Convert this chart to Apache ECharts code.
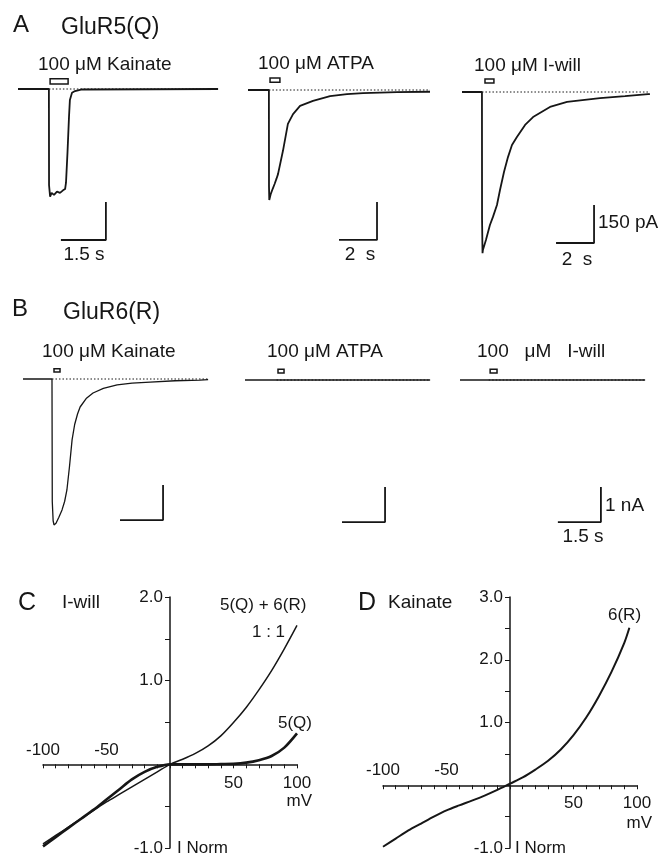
<!DOCTYPE html>
<html>
<head>
<meta charset="utf-8">
<script src="https://cdn.jsdelivr.net/npm/echarts@6/dist/echarts.min.js"></script>
<style>
html, body { margin: 0; padding: 0; background: #fff; }
#fig { width: 661px; height: 859px; }
</style>
</head>
<body>
<div id="fig"></div>
<script>
// ---- A: GluR5(Q) responses, time (s) / current (pA)
const qKainateT = [0, 1.03, 1.035, 1.07, 1.12, 1.2, 1.3, 1.4, 1.5, 1.57, 1.6, 1.65, 1.7, 1.73, 1.8, 1.9, 2.1, 6.67];
const qKainateI = [0, 0, -380, -425, -410, -418, -405, -410, -400, -395, -370, -250, -110, -43, -15, -8, -2, 0];
const qAtpaT = [0, 1.1, 1.105, 1.12, 1.2, 1.3, 1.4, 1.5, 1.58, 1.84, 2.1, 2.37, 2.74, 3.42, 4.32, 5.21, 6.05, 7.84, 9.58];
const qAtpaI = [0, 0, -380, -434, -410, -390, -371, -350, -332, -240, -134, -95, -63, -43, -24, -16, -12, -8, -7];
const qIwillT = [0, 1.05, 1.055, 1.08, 1.1, 1.26, 1.47, 1.63, 1.84, 2.0, 2.21, 2.42, 2.63, 2.89, 3.32, 3.74, 4.63, 5.53, 7.26, 8.58, 9.79, 9.89];
const qIwillI = [0, 0, -500, -636, -624, -584, -525, -493, -446, -387, -316, -257, -209, -178, -130, -99, -59, -39, -24, -16, -8, -8];

// ---- B: GluR6(R) responses, time (s) / current (nA)
const rKainateT = [0, 1.01, 1.02, 1.05, 1.08, 1.15, 1.25, 1.36, 1.45, 1.53, 1.62, 1.71, 1.8, 1.9, 1.99, 2.2, 2.44, 2.8, 3.28, 3.8, 4.43, 5.3, 6.17, 6.45];
const rKainateI = [0, 0, -3.5, -4.05, -4.17, -4.12, -3.95, -3.74, -3.5, -3.17, -2.5, -1.74, -1.3, -1.0, -0.8, -0.56, -0.4, -0.27, -0.17, -0.12, -0.09, -0.05, -0.03, -0.02];
const rAtpaT = [0, 6.45];
const rAtpaI = [0, 0];
const rIwillT = [0, 6.45];
const rIwillI = [0, 0];

// agonist application (s) and scale bars (s, current)
const stimT = [[1.07, 1.67], [1.16, 1.68], [1.21, 1.68], [1.08, 1.29], [1.15, 1.36], [1.05, 1.29]];
const stimI = [[20, 40], [31, 47], [36, 51], [0.2, 0.29], [0.2, 0.31], [0.2, 0.31]];
const barT = [[1.43, 2.93], [4.79, 6.79], [4.95, 6.95], [3.38, 4.88], [3.38, 4.88], [3.41, 4.91]];
const barI = [[-596, -446], [-592, -442], [-596, -446], [-4.03, -3.03], [-4.06, -3.06], [-4.06, -3.06]];

// ---- C / D: I-V curves, mV / normalised current
const ivVolt = [-100, -90, -80, -70, -60, -50, -40, -30, -20, -10, 0, 10, 20, 30, 40, 50, 60, 70, 80, 90, 100];
const ivMix = [-0.95, -0.85, -0.75, -0.65, -0.55, -0.45, -0.36, -0.27, -0.18, -0.09, 0, 0.06, 0.13, 0.22, 0.34, 0.5, 0.68, 0.89, 1.12, 1.38, 1.66];
const ivQ = [-0.98, -0.87, -0.76, -0.65, -0.54, -0.42, -0.3, -0.18, -0.09, -0.03, 0, 0, 0, 0, 0.003, 0.006, 0.02, 0.05, 0.1, 0.2, 0.37];
const ivVoltR = [-100, -90, -80, -70, -60, -50, -40, -30, -20, -10, 0, 10, 20, 30, 40, 50, 60, 70, 80, 90, 94];
const ivR = [-0.98, -0.85, -0.72, -0.61, -0.5, -0.4, -0.32, -0.245, -0.165, -0.075, 0.025, 0.125, 0.25, 0.39, 0.57, 0.8, 1.08, 1.42, 1.81, 2.27, 2.51];

const zip = (xs, ys) => xs.map((x, i) => [x, ys[i]]);
const INK = '#161616';
const FONT = 'Liberation Sans, Arial, Helvetica, sans-serif';

const traces = [
  {t: qKainateT, i: qKainateI, left: 18, base: 89, width: 200, sx: 30, sy: 38 / 150, ymin: -700, ymax: 100, w: 1.8, from: 1.03},
  {t: qAtpaT, i: qAtpaI, left: 248, base: 90, width: 182, sx: 19, sy: 38 / 150, ymin: -700, ymax: 100, w: 1.8, from: 1.1},
  {t: qIwillT, i: qIwillI, left: 462, base: 92, width: 188, sx: 19, sy: 38 / 150, ymin: -700, ymax: 100, w: 1.8, from: 1.05},
  {t: rKainateT, i: rKainateI, left: 23, base: 379, width: 185, sx: 28.7, sy: 35, ymin: -4.6, ymax: 0.5, w: 1.3, from: 1.01},
  {t: rAtpaT, i: rAtpaI, left: 245, base: 380, width: 185, sx: 28.7, sy: 35, ymin: -4.6, ymax: 0.5, w: 1.5, from: 1.1},
  {t: rIwillT, i: rIwillI, left: 460, base: 380, width: 185, sx: 28.7, sy: 35, ymin: -4.6, ymax: 0.5, w: 1.5, from: 1.0}
];

const grid = [], xAxis = [], yAxis = [], series = [];

traces.forEach((tr, k) => {
  grid.push({
    left: tr.left, top: tr.base - tr.ymax * tr.sy,
    width: tr.width, height: (tr.ymax - tr.ymin) * tr.sy,
    outerBoundsMode: 'none'
  });
  xAxis.push({gridIndex: k, type: 'value', min: 0, max: tr.width / tr.sx, show: false});
  yAxis.push({gridIndex: k, type: 'value', min: tr.ymin, max: tr.ymax, show: false});
  const xmax = tr.width / tr.sx;
  // dotted baseline + agonist bar
  series.push({
    type: 'line', xAxisIndex: k, yAxisIndex: k, showSymbol: false, silent: true,
    data: [[tr.from, 0], [xmax, 0]],
    lineStyle: {color: INK, width: 1, type: [1.5, 2]},
    markArea: {
      silent: true,
      itemStyle: {color: '#fff', borderColor: INK, borderWidth: 1.5},
      data: [[{coord: [stimT[k][0], stimI[k][0]]}, {coord: [stimT[k][1], stimI[k][1]]}]]
    }
  });
  // recorded current
  series.push({
    type: 'line', xAxisIndex: k, yAxisIndex: k, showSymbol: false, silent: true,
    data: zip(tr.t, tr.i), lineStyle: {color: INK, width: tr.w}
  });
  // scale bar
  series.push({
    type: 'line', xAxisIndex: k, yAxisIndex: k, showSymbol: false, silent: true,
    data: [[barT[k][0], barI[k][0]], [barT[k][1], barI[k][0]], [barT[k][1], barI[k][1]]],
    lineStyle: {color: INK, width: 1.8}
  });
});

// I-V panels: axes crossing at the origin (moved there with offset)
function ivPanel(left, ymin, ymax, curves) {
  const W = 254, H = 251;
  const g = grid.length;
  const xi = xAxis.length;
  const yi = yAxis.length;
  const xOff = -H * (0 - ymin) / (ymax - ymin);
  const yOff = -W * 0.5;
  grid.push({left: left, top: 597, width: W, height: H, outerBoundsMode: 'none'});
  xAxis.push({
    gridIndex: g, type: 'value', min: -100, max: 100, interval: 10, position: 'bottom', offset: xOff,
    axisLine: {onZero: false, lineStyle: {color: INK, width: 1.5}},
    axisTick: {length: 4, lineStyle: {color: INK, width: 1}},
    axisLabel: {
      formatter: v => (v > 0 && v % 50 === 0 ? String(v) : ''),
      showMinLabel: true, showMaxLabel: true,
      color: INK, fontSize: 17, fontFamily: FONT, margin: 10
    },
    splitLine: {show: false}
  });
  xAxis.push({
    gridIndex: g, type: 'value', min: -100, max: 100, interval: 10, position: 'bottom', offset: xOff,
    axisLine: {show: false, onZero: false},
    axisTick: {show: false},
    axisLabel: {
      inside: true,
      formatter: v => (v < 0 && v % 50 === 0 ? String(v) : ''),
      showMinLabel: true, showMaxLabel: true,
      color: INK, fontSize: 17, fontFamily: FONT, margin: 6
    },
    splitLine: {show: false}
  });
  yAxis.push({
    gridIndex: g, type: 'value', min: ymin, max: ymax, interval: 0.5, position: 'left', offset: yOff,
    axisLine: {onZero: false, lineStyle: {color: INK, width: 1.5}},
    axisTick: {length: 5, lineStyle: {color: INK, width: 1}},
    axisLabel: {
      formatter: v => (Math.abs(v % 1) < 1e-9 && v !== 0 ? v.toFixed(1) : ''),
      showMinLabel: true, showMaxLabel: true,
      color: INK, fontSize: 17, fontFamily: FONT, margin: 7
    },
    splitLine: {show: false}
  });
  curves.forEach(c => {
    series.push({
      type: 'line', xAxisIndex: xi, yAxisIndex: yi, showSymbol: false, silent: true,
      smooth: 0.3, data: zip(c.v, c.i), lineStyle: {color: INK, width: c.w}
    });
  });
}

ivPanel(43, -1, 2, [
  {v: ivVolt, i: ivQ, w: 2.6},
  {v: ivVolt, i: ivMix, w: 1.5}
]);
ivPanel(383, -1, 3, [
  {v: ivVoltR, i: ivR, w: 2}
]);

const texts = [
  ['A', 13, 25, 24, 'left'], ['GluR5(Q)', 61, 28, 23, 'left'],
  ['100 μM Kainate', 38, 65, 19, 'left'], ['100 μM ATPA', 258, 64, 19, 'left'], ['100 μM I-will', 474, 66, 19, 'left'],
  ['1.5 s', 84, 255, 19, 'center'], ['2  s', 360, 255, 19, 'center'], ['2  s', 577, 260, 19, 'center'],
  ['150 pA', 598, 223, 19, 'left'],
  ['B', 12, 309, 24, 'left'], ['GluR6(R)', 63, 313, 23, 'left'],
  ['100 μM Kainate', 42, 352, 19, 'left'], ['100 μM ATPA', 267, 352, 19, 'left'], ['100   μM   I-will', 477, 352, 19, 'left'],
  ['1 nA', 605, 506, 19, 'left'], ['1.5 s', 583, 537, 19, 'center'],
  ['C', 18, 603, 25, 'left'], ['I-will', 62, 603, 19, 'left'],
  ['5(Q) + 6(R)', 220, 605, 17, 'left'], ['1 : 1', 252, 632, 17, 'left'], ['5(Q)', 278, 723, 17, 'left'],
  ['mV', 312, 801, 17, 'right'], ['I Norm', 177, 848, 17, 'left'],
  ['D', 358, 603, 25, 'left'], ['Kainate', 388, 603, 19, 'left'], ['6(R)', 608, 615, 17, 'left'],
  ['mV', 652, 823, 17, 'right'], ['I Norm', 515, 848, 17, 'left']
];

const chart = echarts.init(document.getElementById('fig'), null, {renderer: 'canvas'});
chart.setOption({
  backgroundColor: '#fff',
  animation: false,
  grid: grid,
  xAxis: xAxis,
  yAxis: yAxis,
  series: series,
  graphic: texts.map(t => ({
    type: 'text', x: t[1], y: t[2], silent: true,
    style: {text: t[0], fontSize: t[3], fontFamily: FONT, fill: INK, align: t[4], verticalAlign: 'middle'}
  }))
});
</script>
</body>
</html>
